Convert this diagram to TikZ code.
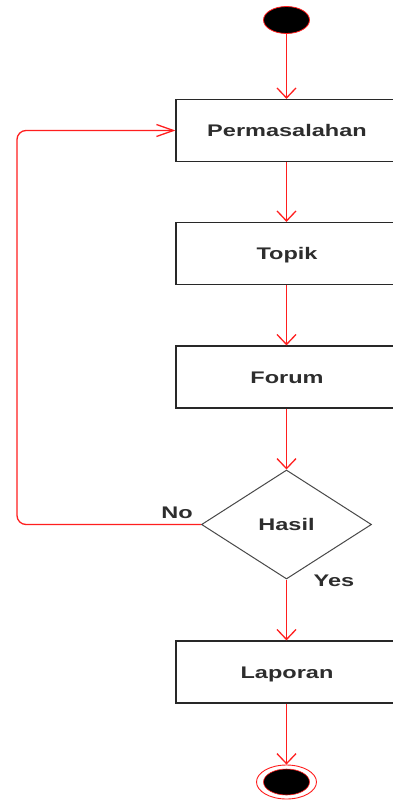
\documentclass[tikz,border=0pt]{standalone}
\usepackage{fontspec}
\setmainfont{Liberation Sans}
\usetikzlibrary{shapes.geometric,arrows.meta}
\definecolor{lnred}{RGB}{255,30,30}
\definecolor{bord}{RGB}{40,40,40}
\definecolor{txt}{RGB}{45,45,45}
\newcommand{\wtxt}[1]{\scalebox{1.4}[1]{#1}}
\tikzset{
  tfont/.style={font=\fontsize{16.8}{18}\selectfont\bfseries, text=txt, text height=12pt, text depth=0pt},
  actbox/.style={tfont, draw=bord, line width=1.2pt, fill=white, rectangle, minimum width=222pt, minimum height=62pt, inner sep=0pt},
  decbox/.style={tfont, draw=bord!85, line width=1pt, fill=white, diamond, aspect=1.56, minimum width=170pt, minimum height=109pt, inner sep=0pt},
  lbl/.style={tfont, inner sep=0pt},
  flow/.style={draw=lnred, line width=1.3pt, -{Straight Barb[length=10pt,width=19pt]}},
  hflow/.style={draw=lnred, line width=1.3pt, rounded corners=9pt, -{Straight Barb[length=17pt,width=12pt]}},
  startdot/.style={ellipse, fill=black, draw=lnred, line width=0.8pt, minimum width=46pt, minimum height=27pt, inner sep=0pt},
  endring/.style={ellipse, fill=white, draw=lnred, line width=0.9pt, minimum width=60pt, minimum height=34pt, inner sep=0pt},
  enddot/.style={ellipse, fill=black, draw=lnred, line width=0.6pt, minimum width=46pt, minimum height=26pt, inner sep=0pt}
}
\begin{document}
\begin{tikzpicture}[x=1pt,y=-1pt]
\useasboundingbox (0,0) rectangle (393,800);
\fill[white] (0,0) rectangle (393,800);
\node[startdot] (start) at (286.5,20) {};
\node[actbox] (perm) at (287,130.5) {\wtxt{Permasalahan}};
\node[actbox] (topik) at (287,253.5) {\wtxt{Topik}};
\node[actbox] (forum) at (287,377) {\wtxt{Forum}};
\node[decbox] (hasil) at (286.5,524.5) {\wtxt{Hasil}};
\node[actbox] (lap) at (287,672) {\wtxt{Laporan}};
\node[endring] (endr) at (286.5,782) {};
\node[enddot] (endd) at (286.5,782) {};
\coordinate (lb) at (17,524.5);
\coordinate (lt) at (17,130.5);
\node[lbl] (no) at (177,512) {\wtxt{No}};
\node[lbl] (yes) at (334,580) {\wtxt{Yes}};
\draw[flow] (start) -- (start |- perm.north);
\draw[flow] (start |- perm.south) -- (start |- topik.north);
\draw[flow] (start |- topik.south) -- (start |- forum.north);
\draw[flow] (start |- forum.south) -- (hasil.north);
\draw[flow] (hasil.south) -- (start |- lap.north);
\draw[flow] (start |- lap.south) -- (endr);
\draw[hflow] (hasil.west) -- (lb) -- (lt) -- (perm.west);
\end{tikzpicture}
\end{document}
